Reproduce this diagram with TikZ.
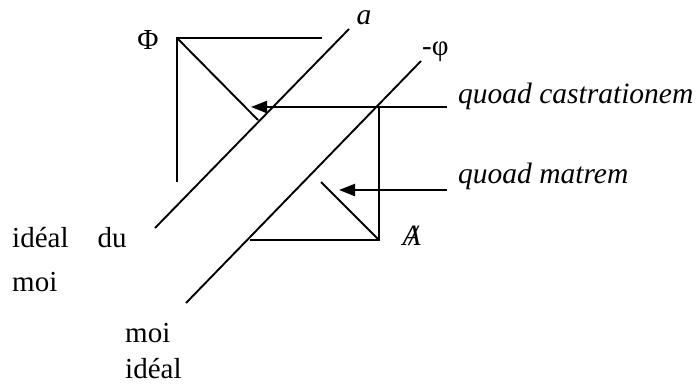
\documentclass[tikz,border=0pt]{standalone}
\usepackage{fontspec}
\setmainfont{Liberation Serif}
\usetikzlibrary{arrows.meta}
\begin{document}
\begin{tikzpicture}[x=1pt,y=-1pt,
  ln/.style={line width=1.9pt},
  arr/.style={line width=2.4pt,-{Triangle[length=16pt,width=12pt]}},
  lbl/.style={inner sep=0pt,font=\fontsize{29}{32}\selectfont},
  ilbl/.style={inner sep=0pt,font=\fontsize{29.5}{32}\selectfont\itshape}]
\useasboundingbox (0,0) rectangle (696,383);
% coordinates
\coordinate (P) at (177,38);
\coordinate (T) at (322,38);
\coordinate (V) at (177,182);
\coordinate (D1) at (258,120);
\coordinate (A1) at (349,29);
\coordinate (A2) at (155,228);
\coordinate (F1) at (421,61);
\coordinate (F2) at (186,303);
\coordinate (C) at (379,240);
\coordinate (CT) at (379,107);
\coordinate (B) at (250,240);
\coordinate (D2) at (321,182);
\coordinate (R1) at (447,107);
\coordinate (E1) at (251,107);
\coordinate (R2) at (447,190);
\coordinate (E2) at (339,190);
% lines
\draw[ln] (T) -- (P) -- (V);
\draw[ln] (P) -- (D1);
\draw[ln] (A1) -- (A2);
\draw[ln] (F1) -- (F2);
\draw[ln] (CT) -- (C) -- (B);
\draw[ln] (C) -- (D2);
\draw[arr] (R1) -- (E1);
\draw[arr] (R2) -- (E2);
% labels
\node[lbl] (phi) at (148,40) {Φ};
\node[ilbl] (la) at (364,18) {a};
\node[lbl,anchor=west] (mphi) at (422,52) {-φ};
\node[ilbl,anchor=base west] (qc) at (458,103) {quoad castrationem};
\node[ilbl,anchor=base west] (qm) at (458,183) {quoad matrem};
\node[ilbl] (barA) at (410,236) {\rlap{A}\hspace{0.22em}/};
\node[lbl,anchor=base west] (idu) at (12,247) {idéal\hspace{1em}du};
\node[lbl,anchor=base west] (moi1) at (12,291) {moi};
\node[lbl,anchor=base west] (moi2) at (125,342) {moi};
\node[lbl,anchor=base west] (ideal2) at (125,378) {idéal};
\end{tikzpicture}
\end{document}
